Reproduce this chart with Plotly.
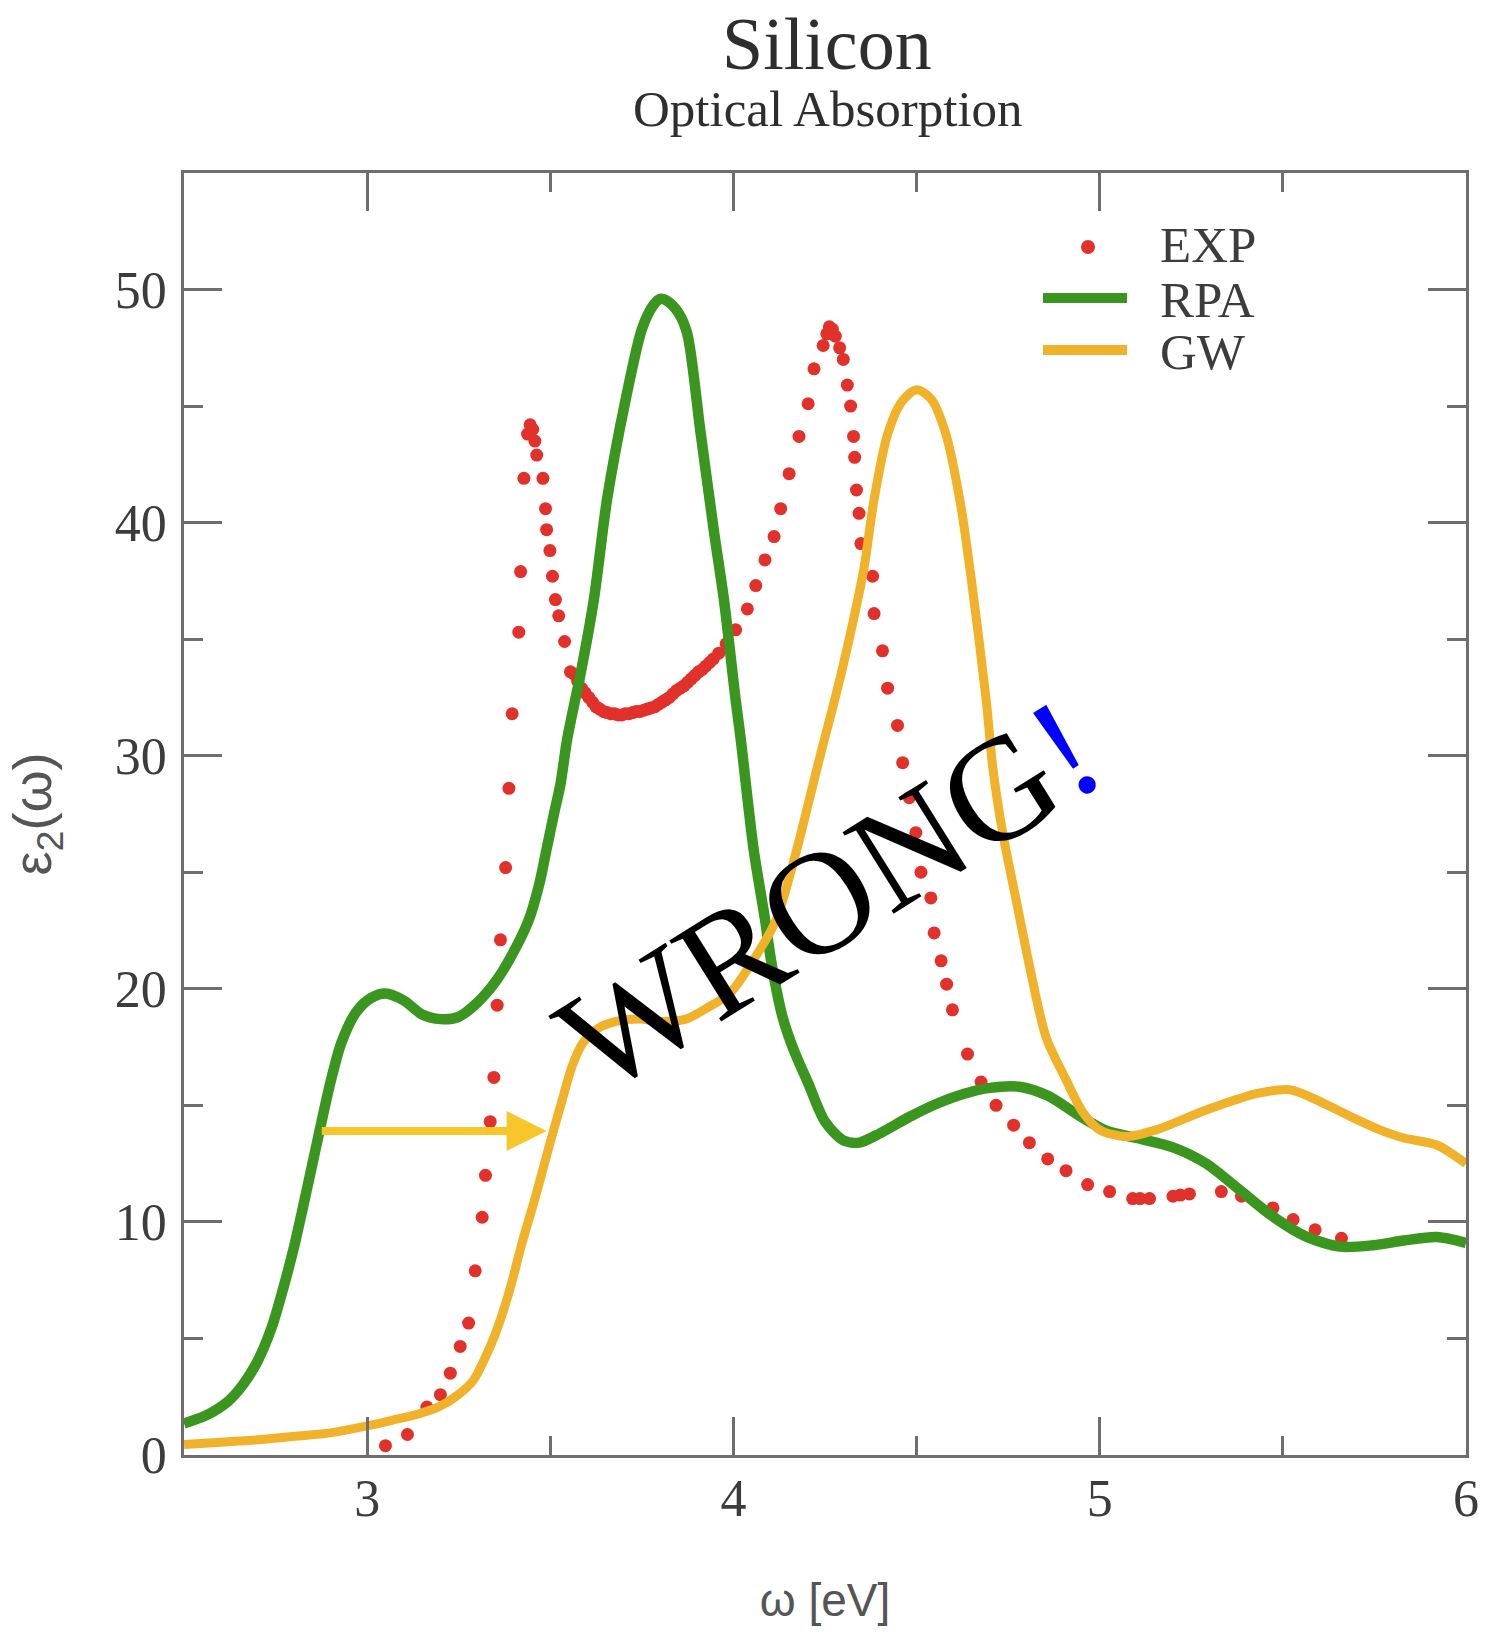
import plotly.graph_objects as go

# ---- data -------------------------------------------------------------
# RPA spectrum (eV, eps2)
rpa_x = [2.50, 2.56, 2.62, 2.66, 2.70, 2.74, 2.77, 2.80, 2.83, 2.87, 2.90, 2.93, 2.97,
         3.01, 3.05, 3.10, 3.15, 3.20, 3.25, 3.30, 3.35, 3.39, 3.44, 3.47, 3.49, 3.51,
         3.528, 3.546, 3.568, 3.58, 3.619, 3.655, 3.706, 3.75, 3.78, 3.80, 3.82, 3.85,
         3.874, 3.91, 3.947, 3.974, 4.006, 4.02, 4.055, 4.085, 4.105, 4.134, 4.164, 4.204,
         4.25, 4.30, 4.343, 4.40, 4.48, 4.56, 4.63, 4.70, 4.78, 4.86, 4.94, 5.02, 5.10,
         5.20, 5.291, 5.382, 5.473, 5.564, 5.656, 5.747, 5.83, 5.92, 6.00]
rpa_y = [1.35, 1.7, 2.3, 3.0, 4.0, 5.5, 7.1, 8.9, 11.0, 13.9, 16.0, 17.7, 19.0,
         19.6, 19.8, 19.5, 18.9, 18.7, 18.8, 19.4, 20.3, 21.3, 22.9, 24.5, 26.0, 27.5,
         28.8, 30.7, 32.4, 33.3, 36.7, 41.0, 45.3, 48.3, 49.3, 49.6, 49.5, 49.0,
         48.1, 43.9, 39.6, 36.7, 32.4, 30.7, 26.0, 23.1, 21.0, 18.8, 17.4, 15.95,
         14.3, 13.5, 13.4, 13.8, 14.5, 15.1, 15.5, 15.75, 15.8, 15.4, 14.6, 13.9, 13.6,
         13.2, 12.5, 11.37, 10.23, 9.37, 8.94, 9.0, 9.2, 9.35, 9.1]

# GW spectrum (eV, eps2)
gw_x = [2.50, 2.60, 2.70, 2.80, 2.90, 3.00, 3.07, 3.14, 3.20, 3.25, 3.29, 3.32, 3.35,
        3.387, 3.423, 3.46, 3.496, 3.532, 3.56, 3.59, 3.63, 3.68, 3.74, 3.80, 3.87, 3.93,
        3.99, 4.045, 4.115, 4.17, 4.21, 4.24, 4.27, 4.30, 4.33, 4.357, 4.384, 4.421,
        4.46, 4.50, 4.54, 4.58, 4.62, 4.65, 4.69, 4.708, 4.735, 4.772, 4.808, 4.854,
        4.908, 4.954, 5.00, 5.072, 5.154, 5.291, 5.428, 5.519, 5.61, 5.701, 5.765, 5.83,
        5.92, 6.00]
gw_y = [0.45, 0.55, 0.65, 0.8, 0.95, 1.25, 1.5, 1.76, 2.1, 2.6, 3.2, 4.1, 5.2,
        6.96, 9.1, 11.1, 13.2, 15.2, 16.7, 17.7, 18.3, 18.6, 18.7, 18.6, 18.7, 19.2,
        19.8, 21.0, 22.9, 25.8, 28.3, 30.2, 32.0, 33.9, 36.0, 38.1, 41.0, 43.8,
        45.2, 45.7, 45.3, 43.8, 40.8, 37.5, 32.4, 29.5, 26.7, 23.8, 21.0, 17.9,
        16.1, 14.7, 13.95, 13.66, 13.95, 14.8, 15.5, 15.67, 15.1, 14.4, 13.95, 13.6,
        13.3, 12.5]

# Experimental points (eV, eps2)
exp_x = [3.050, 3.110, 3.163, 3.200, 3.227, 3.254, 3.277, 3.295, 3.314, 3.323, 3.336,
         3.346, 3.355, 3.364, 3.378, 3.387, 3.396, 3.414, 3.419, 3.428, 3.438, 3.445,
         3.452, 3.458, 3.463, 3.480, 3.487, 3.490, 3.499, 3.506, 3.514, 3.523, 3.539,
         3.555, 3.565, 3.575, 3.585, 3.595, 3.605, 3.615, 3.625, 3.635, 3.645, 3.655,
         3.665, 3.675, 3.685, 3.695, 3.705, 3.715, 3.725, 3.735, 3.745, 3.755, 3.765,
         3.775, 3.785, 3.795, 3.805, 3.815, 3.825, 3.835, 3.845, 3.855, 3.865, 3.875,
         3.885, 3.895, 3.905, 3.915, 3.925, 3.935, 3.945, 3.960, 3.980, 4.006, 4.038,
         4.061, 4.086, 4.111, 4.129, 4.152, 4.179, 4.204, 4.220, 4.245, 4.255, 4.262,
         4.270, 4.278, 4.290, 4.300, 4.311, 4.320, 4.328, 4.331, 4.336, 4.343, 4.348,
         4.380, 4.384, 4.407, 4.421, 4.448, 4.462, 4.480, 4.498, 4.512, 4.539, 4.548,
         4.567, 4.582, 4.598, 4.639, 4.676, 4.717, 4.765, 4.808, 4.858, 4.908, 4.967,
         5.027, 5.090, 5.110, 5.136, 5.200, 5.220, 5.245, 5.332, 5.387, 5.473, 5.528,
         5.588, 5.660]
exp_y = [0.40, 0.88, 2.06, 2.59, 3.51, 4.66, 5.66, 7.9, 10.2, 12.0, 14.3,
         16.2, 19.3, 22.1, 25.2, 28.6, 31.8, 35.3, 37.9, 41.9, 43.8, 44.2,
         44.0, 43.5, 42.9, 41.9, 40.6, 39.7, 38.8, 37.7, 36.7, 36.0, 34.9,
         33.6, 33.5, 33.2, 32.9, 32.7, 32.5, 32.3, 32.1, 32.0, 31.9, 31.85,
         31.8, 31.8, 31.75, 31.75, 31.8, 31.8, 31.85, 31.9, 31.9, 31.95, 32.0,
         32.05, 32.1, 32.2, 32.3, 32.4, 32.5, 32.65, 32.8, 32.9, 33.0, 33.15,
         33.3, 33.45, 33.6, 33.7, 33.85, 34.0, 34.15, 34.4, 34.8, 35.4, 36.3,
         37.3, 38.4, 39.4, 40.6, 42.1, 43.7, 45.1, 46.6, 47.6, 48.1, 48.4,
         48.3, 48.0, 47.5, 47.0, 45.9, 45.0, 43.7, 42.8, 41.4, 40.4, 39.1,
         37.7, 36.1, 34.5, 32.9, 31.3, 29.7, 28.2, 26.7, 25.0, 23.9, 22.4,
         21.2, 20.2, 19.1, 17.2, 16.0, 15.0, 14.15, 13.4, 12.7, 12.2, 11.6,
         11.3, 11.0, 11.0, 11.0, 11.1, 11.15, 11.2, 11.3, 11.1, 10.6, 10.1,
         9.66, 9.3]

# Axis ticks
x_ticks = [3, 4, 5, 6]
y_ticks = [0, 10, 20, 30, 40, 50]

# Shift arrow (RPA onset -> GW onset)
arrow_from = (2.872, 13.9)
arrow_to = (3.49, 13.9)

# ---- styling ----------------------------------------------------------
RED = "#E2302A"
GREEN = "#3A961E"
ORANGE = "#F0B22A"
ARROW = "#F6C62A"
AXIS = "#6E6E6E"
TEXT = "#3C3C3C"
SERIF = "Liberation Serif, Times New Roman, serif"
SANS = "Liberation Sans, Arial, sans-serif"

W, H = 1485, 1642
L, R, T, B = 184, 19, 173, 187


def px_x(px):
    return (px - L) / (W - L - R)


def px_y(py):
    return (H - B - py) / (H - T - B)


fig = go.Figure()

fig.add_trace(go.Scatter(
    x=exp_x, y=exp_y, mode="markers", name="EXP",
    marker=dict(color=RED, size=13, line=dict(width=0)),
    showlegend=False))
fig.add_trace(go.Scatter(
    x=rpa_x, y=rpa_y, mode="lines", name="RPA",
    line=dict(color=GREEN, width=10.5, shape="spline", smoothing=0.8),
    showlegend=False))
fig.add_trace(go.Scatter(
    x=gw_x, y=gw_y, mode="lines", name="GW",
    line=dict(color=ORANGE, width=9, shape="spline", smoothing=0.8),
    showlegend=False))

axis_common = dict(
    showline=True, linecolor=AXIS, linewidth=2.5, mirror="allticks",
    ticks="inside", ticklen=38, tickwidth=2.5, tickcolor=AXIS,
    showgrid=False, zeroline=False,
    tickfont=dict(family=SERIF, size=52, color=TEXT),
)

fig.update_xaxes(
    range=[2.5, 6], tickvals=x_ticks, ticktext=[str(v) for v in x_ticks],
    minor=dict(ticks="inside", ticklen=19, tickwidth=2.5, tickcolor=AXIS, dtick=0.5,
               tick0=2.5, showgrid=False),
    title=dict(text="ω [eV]", font=dict(family=SANS, size=46, color="#555555"),
               standoff=58),
    ticklabelstandoff=-4,
    **axis_common)
fig.update_yaxes(
    range=[0, 55], tickvals=y_ticks, ticktext=[str(v) for v in y_ticks],
    minor=dict(ticks="inside", ticklen=19, tickwidth=2.5, tickcolor=AXIS, dtick=5,
               tick0=0, showgrid=False),
    title=dict(text="ε<sub>2</sub>(ω)", font=dict(family=SANS, size=54, color="#555555"),
               standoff=46),
    ticklabelstandoff=4,
    **axis_common)

annotations = [
    dict(text="Silicon", xref="paper", yref="paper", x=px_x(827), y=px_y(44),
         xanchor="center", yanchor="middle", showarrow=False,
         font=dict(family=SERIF, size=74, color="#2E2E2E")),
    dict(text="Optical Absorption", xref="paper", yref="paper", x=px_x(828), y=px_y(109),
         xanchor="center", yanchor="middle", showarrow=False,
         font=dict(family=SERIF, size=51, color="#2E2E2E")),
    # legend labels
    dict(text="EXP", xref="paper", yref="paper", x=px_x(1158), y=px_y(245),
         xanchor="left", yanchor="middle", showarrow=False,
         font=dict(family=SERIF, size=51, color=TEXT)),
    dict(text="RPA", xref="paper", yref="paper", x=px_x(1158), y=px_y(300),
         xanchor="left", yanchor="middle", showarrow=False,
         font=dict(family=SERIF, size=51, color=TEXT)),
    dict(text="GW", xref="paper", yref="paper", x=px_x(1158), y=px_y(352),
         xanchor="left", yanchor="middle", showarrow=False,
         font=dict(family=SERIF, size=51, color=TEXT)),
    # shift arrow
    dict(x=arrow_to[0], y=arrow_to[1], ax=arrow_from[0], ay=arrow_from[1],
         xref="x", yref="y", axref="x", ayref="y", text="", showarrow=True,
         arrowhead=2, arrowsize=1.0, arrowwidth=8, arrowcolor=ARROW, standoff=0),
    # verdict
    dict(text="WRONG<span style='color:#0000FF'>!</span>", xref="x", yref="y",
         x=4.262, y=24.0, xanchor="center", yanchor="middle", textangle=-32,
         showarrow=False, font=dict(family=SERIF, size=147, color="#000000")),
]

shapes = [
    dict(type="circle", xref="paper", yref="paper",
         x0=px_x(1081), x1=px_x(1095), y0=px_y(254), y1=px_y(240),
         fillcolor=RED, line=dict(width=0)),
    dict(type="line", xref="paper", yref="paper",
         x0=px_x(1043), x1=px_x(1127), y0=px_y(298), y1=px_y(298),
         line=dict(color=GREEN, width=10)),
    dict(type="line", xref="paper", yref="paper",
         x0=px_x(1043), x1=px_x(1127), y0=px_y(350), y1=px_y(350),
         line=dict(color=ORANGE, width=10)),
]

fig.update_layout(
    width=W, height=H,
    margin=dict(l=L, r=R, t=T, b=B, autoexpand=False),
    plot_bgcolor="white", paper_bgcolor="white",
    annotations=annotations, shapes=shapes,
    showlegend=False,
)

fig.write_html("out.html")
